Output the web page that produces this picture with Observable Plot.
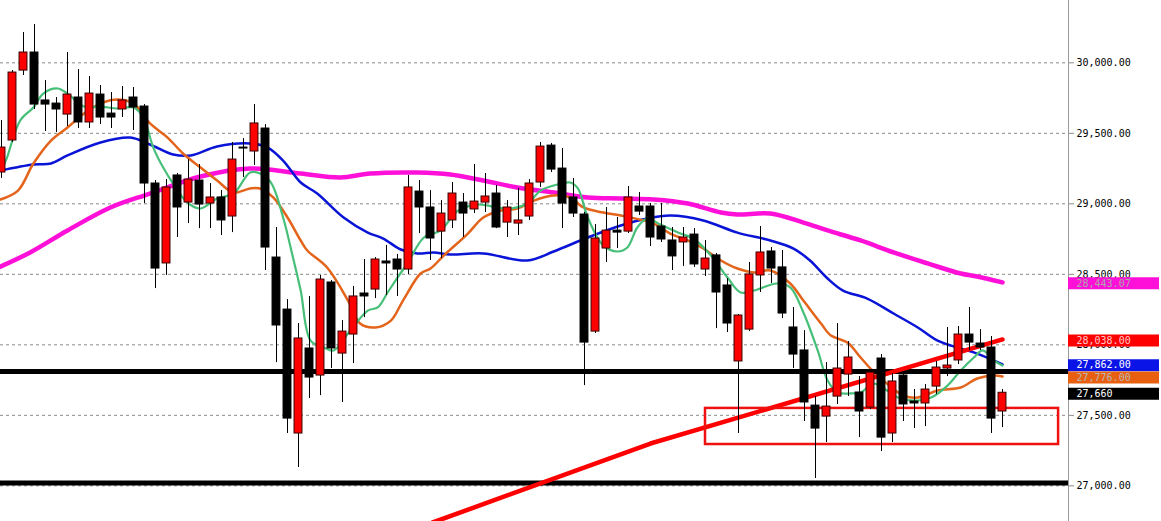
<!DOCTYPE html>
<html><head><meta charset="utf-8">
<script src="https://cdn.jsdelivr.net/npm/d3@7"></script>
<script src="https://cdn.jsdelivr.net/npm/@observablehq/plot@0.6"></script>
<style>html,body{margin:0;padding:0;background:#fff;overflow:hidden}</style>
</head><body><div id="chart"></div>
<script>
// ---- candle data (index 0 = leftmost, partially clipped bar) ----
const opens  = [29222,29449,29945,30073,29733,29711,29633,29754,29577,29775,29640,29669,29754,29690,29144,28577,29201,29009,29165,29002,29045,28910,29399,29371,29534,28619,28250,27371,27974,27782,28442,27938,28073,28364,28392,28591,28605,28534,29087,28974,28803,28882,29009,28960,29009,29073,28867,28860,28910,29151,29413,29250,29045,28924,28094,28683,28810,28803,28981,28981,28839,28740,28726,28782,28534,28634,28421,27882,28108,28492,28662,28549,28123,27960,27569,27491,27633,27789,27662,27555,27903,27371,27782,27598,27584,27704,27832,27889,28073,28009,27981,27527];
const highs  = [29591,29945,30215,30272,29874,29754,30073,29952,29903,29839,29789,29832,29825,29704,29165,29172,29215,29314,29279,29144,29094,29435,29463,29704,29562,28832,28321,28151,28343,28492,28456,28172,28414,28605,28619,28705,28641,29201,29165,29094,29023,29151,29073,29279,29215,29130,29023,29109,29172,29435,29428,29392,29180,28940,28853,28974,28903,29123,29080,29002,29002,28832,28832,28824,28740,28648,28470,28215,28584,28839,28690,28669,28265,28101,27633,27874,28151,28023,27775,27825,27931,27796,27789,27683,27718,27882,28123,28130,28265,28108,28059,27683];
const lows   = [29180,29435,29910,29669,29513,29506,29548,29534,29534,29562,29534,29612,29520,29002,28399,28492,28761,28860,28824,28824,28775,28796,29187,29272,28527,27874,27371,27130,27619,27640,27832,27591,27867,28193,28328,28350,28343,28499,28789,28598,28612,28824,28761,28931,28938,28824,28761,28775,28882,29116,29222,28824,28903,27711,28080,28584,28683,28789,28917,28697,28726,28527,28556,28549,28485,28115,28087,27371,28094,28371,28435,28186,27832,27456,27052,27307,27577,27633,27342,27541,27243,27307,27456,27406,27420,27647,27775,27860,27960,27960,27371,27413];
const closes = [29399,29931,30073,29704,29704,29669,29775,29577,29782,29612,29612,29733,29683,29144,28541,29116,28974,29172,28995,29045,28882,29314,29392,29570,28690,28137,27477,28045,27768,28463,27974,28094,28343,28343,28605,28577,28534,29116,28974,28754,28931,29073,28931,29016,29052,28832,28974,28882,29144,29406,29243,29002,28931,28016,28754,28810,28796,29045,28945,28761,28747,28627,28761,28570,28612,28371,28151,28208,28499,28655,28541,28222,27931,27591,27406,27562,27832,27910,27527,27803,27342,27740,27577,27584,27683,27839,27853,28073,28016,27981,27477,27660];

// ---- moving averages: [bar index, price] ----
const maGreen = [[0.2,29272],[0.5,29328],[1.7,29591],[2.9,29683],[3.8,29782],[5.1,29818],[6.0,29782],[7.5,29690],[9.0,29690],[10.5,29676],[12.0,29683],[12.9,29612],[13.8,29399],[14.7,29257],[15.6,29144],[16.9,29009],[18.1,28967],[19.6,29038],[21.1,29073],[22.6,29222],[23.5,29215],[24.5,29151],[25.6,28903],[26.5,28619],[27.2,28385],[28.1,28030],[29.3,27981],[30.2,27960],[31.7,28101],[33.3,28243],[34.2,28265],[35.1,28371],[36.0,28477],[36.9,28577],[38.4,28761],[39.9,28810],[41.5,28952],[43.3,28995],[45.1,28974],[46.3,28967],[47.8,29002],[49.0,29094],[50.2,29130],[51.7,29151],[52.4,29109],[53.3,28903],[54.7,28705],[56.0,28662],[56.9,28690],[57.8,28832],[58.7,28896],[59.9,28853],[61.5,28796],[62.9,28754],[64.5,28633],[66.0,28477],[67.2,28371],[68.4,28385],[70.5,28435],[71.7,28407],[72.9,28229],[74.2,27960],[75.1,27747],[76.0,27662],[77.2,27655],[78.1,27662],[79.3,27725],[80.5,27676],[81.7,27619],[83.3,27605],[84.5,27626],[86.0,27711],[87.2,27818],[88.4,27910],[89.2,27960],[90.2,27889],[91,27853]];
const maOrange = [[-0.1,29031],[1.5,29094],[2.9,29286],[4.5,29449],[6.0,29541],[7.5,29640],[9.0,29711],[10.5,29740],[12.0,29711],[13.5,29570],[15.1,29470],[16.5,29357],[18.1,29257],[19.6,29165],[21.1,29080],[22.6,29109],[23.5,29109],[24.7,29045],[26.0,28903],[27.2,28740],[27.8,28669],[29.6,28548],[31.5,28314],[32.6,28151],[34.0,28123],[35.4,28172],[36.5,28314],[38.1,28506],[39.0,28541],[40.2,28633],[42.4,28789],[43.8,28903],[45.4,28953],[46.9,28967],[48.4,29023],[50.2,29059],[51.7,29045],[52.9,28974],[54.7,28938],[56.3,28917],[59.3,28860],[60.8,28789],[62.4,28740],[63.8,28683],[65.4,28598],[66.9,28541],[68.4,28513],[69.9,28527],[71.7,28435],[72.9,28314],[74.5,28151],[75.4,28066],[76.9,28016],[78.1,27910],[79.0,27832],[80.5,27725],[82.0,27640],[83.3,27626],[85.1,27676],[87.2,27697],[88.7,27761],[90.2,27782],[91,27776]];
const maBlue = [[-0.1,29236],[2.9,29279],[4.5,29286],[6.0,29343],[9.0,29435],[11.7,29470],[13.5,29421],[15.6,29350],[17.2,29343],[19.6,29406],[22.6,29428],[24.2,29399],[25.6,29307],[27.2,29151],[28.7,29073],[31.1,28903],[33.3,28796],[34.7,28754],[36.3,28676],[37.8,28648],[39.3,28655],[40.8,28641],[43.8,28648],[47.8,28598],[50.2,28662],[53.3,28761],[56.3,28846],[58.7,28896],[60.8,28917],[63.8,28882],[66.9,28796],[69.9,28740],[72.0,28683],[73.5,28598],[75.1,28470],[76.5,28385],[78.7,28328],[81.1,28222],[83.3,28123],[85.1,28030],[87.2,27974],[88.7,27938],[91,27862]];
const maMagenta = [[-0.1,28555],[2.6,28655],[6.0,28811],[9.9,28974],[13.5,29073],[18.1,29194],[22.6,29251],[27.2,29215],[30.8,29187],[33.5,29215],[37.8,29222],[40.8,29208],[43.8,29165],[46.9,29116],[50.2,29080],[53.3,29045],[56.3,29038],[59.3,29031],[62.4,29002],[65.4,28938],[66.9,28924],[69.9,28931],[72.9,28867],[75.1,28811],[78.1,28740],[81.1,28655],[84.2,28577],[87.2,28506],[88.7,28485],[91,28443.07]];

// ---- drawn objects ----
const trendLine = [[39.2,26740],[59.0,27300],[91,28038]];
const hLines = [27810, 27020];
const boxX1 = 64.0, boxX2 = 96.1, boxLow = 27293, boxHigh = 27549;

// ---- axis ----
const tickValues = [27000, 27500, 28000, 28500, 29000, 29500, 30000];
const labelValues = [28443.07, 28038, 27862, 27776, 27660];
const labelTexts = ["28,443.07", "28,038.00", "27,862.00", "27,776.00", "27,660"];
const labelFill = ["#ff10d8", "#ff0000", "#0a14e6", "#e8600f", "#000000"];
const labelInk  = ["#a8a8a8", "#ffc8c8", "#ffffff", "#b8b8b8", "#ffffff"];

const candles = opens.map((o, i) => ({i, o, h: highs[i], l: lows[i], c: closes[i]}));
const labels = labelValues.map((v, k) => ({v, t: labelTexts[k], f: labelFill[k], ink: labelInk[k]}));

const xMin = -1/11, xMax = 1067/11;
const font = "DejaVu Sans Mono";

const chart = Plot.plot({
  width: 1161, height: 521,
  marginTop: 0, marginBottom: 0, marginLeft: 0, marginRight: 93,
  style: {fontFamily: font, fontSize: "10px", background: "#fff", color: "#000"},
  x: {type: "linear", domain: [xMin, xMax], axis: null},
  y: {domain: [26747, 30442], axis: null},
  marks: [
    Plot.gridY(tickValues, {stroke: "#8a8a8a", strokeOpacity: 1, strokeDasharray: "3,3"}),
    Plot.ruleX([xMax], {stroke: "#9a9a9a", strokeWidth: 1}),
    Plot.axisY(tickValues, {anchor: "right", tickSize: 5, tickPadding: 3, tickFormat: d3.format(",.2f"), fontSize: 10, fontFamily: font, stroke: "#8a8a8a", fill: "#000"}),
    Plot.line(maMagenta, {x: d => d[0], y: d => d[1], stroke: "#ff10d8", strokeWidth: 4.5, curve: "catmull-rom", clip: true}),
    Plot.line(maBlue, {x: d => d[0], y: d => d[1], stroke: "#0a14d6", strokeWidth: 2.5, curve: "catmull-rom", clip: true}),
    Plot.line(maOrange, {x: d => d[0], y: d => d[1], stroke: "#e3641a", strokeWidth: 2.5, curve: "catmull-rom", clip: true}),
    Plot.line(maGreen, {x: d => d[0], y: d => d[1], stroke: "#46bf78", strokeWidth: 2.2, curve: "catmull-rom", clip: true}),
    Plot.ruleY(hLines, {stroke: "#000", strokeWidth: 5}),
    Plot.line(trendLine, {x: d => d[0], y: d => d[1], stroke: "#ff0000", strokeWidth: 4.5, clip: true}),
    Plot.rect([{x1: boxX1, x2: boxX2, y1: boxLow, y2: boxHigh}], {x1: "x1", x2: "x2", y1: "y1", y2: "y2", fill: "none", stroke: "#f01010", strokeWidth: 2.5}),
    Plot.ruleX(candles, {x: "i", y1: "l", y2: "h", stroke: "#000", strokeWidth: 1, clip: true}),
    Plot.rect(candles, {x1: d => d.i - 0.36, x2: d => d.i + 0.36, y1: "o", y2: "c",
      fill: d => d.c >= d.o ? "#ff0000" : "#000000",
      stroke: d => d.c >= d.o ? "#3a0000" : "#000000", strokeWidth: 1, clip: true}),
    Plot.ruleY(labels, {y: "v", x1: xMax, x2: xMax + 91/11, stroke: "f", strokeWidth: 12, dy: 1}),
    Plot.text(labels, {y: "v", x: xMax, text: "t", fill: "ink", textAnchor: "start", dx: 8, dy: 1, fontSize: 10, fontFamily: font})
  ]
});
document.getElementById("chart").appendChild(chart);
</script>
</body></html>
